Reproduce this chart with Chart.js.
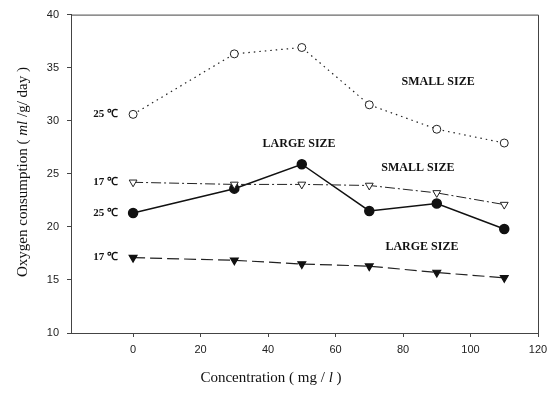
<!DOCTYPE html>
<html>
<head>
<meta charset="utf-8">
<script src="https://cdn.jsdelivr.net/npm/chart.js@4.4.1/dist/chart.umd.min.js"></script>
<style>
  html, body { margin: 0; padding: 0; background: #fff; }
  #wrap { width: 555px; height: 397px; }
</style>
</head>
<body>
<div id="wrap"><canvas id="chart" width="555" height="397"></canvas></div>
<script>
// ==========================
// DATA
// ==========================
const concentration = [0, 30, 50, 70, 90, 110];
const small25 = [30.6, 36.3, 36.9, 31.5, 29.2, 27.9];
const small17 = [24.2, 24.0, 24.0, 23.9, 23.2, 22.1];
const large25 = [21.3, 23.6, 25.9, 21.5, 22.2, 19.8];
const large17 = [17.1, 16.85, 16.5, 16.3, 15.7, 15.2];

const xTicks = [0, 20, 40, 60, 80, 100, 120];
const yTicks = [10, 15, 20, 25, 30, 35, 40];

const tempLabels = ["25 \u2103", "17 \u2103", "25 \u2103", "17 \u2103"];
const sizeLabels = [
  { text: "SMALL SIZE", x: 90.4, y: 33.7 },
  { text: "LARGE SIZE", x: 49.2, y: 27.8 },
  { text: "SMALL SIZE", x: 84.4, y: 25.6 },
  { text: "LARGE SIZE", x: 85.6, y: 18.1 }
];

function toPoints(vals) {
  return concentration.map((c, i) => ({ x: c, y: vals[i] }));
}

// draw a run of text pieces (some italic) centred on 0
function drawParts(ctx, parts, x, y) {
  let total = 0;
  parts.forEach(p => { ctx.font = p.f; total += ctx.measureText(p.t).width; });
  let px = x - total / 2;
  ctx.textAlign = "left";
  parts.forEach(p => {
    ctx.font = p.f;
    ctx.fillText(p.t, px, y);
    px += ctx.measureText(p.t).width;
  });
}

// ==========================
// TEXT + FRAME PLUGIN
// ==========================
const textPlugin = {
  id: "texts",
  afterDraw(chart) {
    const ctx = chart.ctx;
    const xs = chart.scales.x;
    const ys = chart.scales.y;
    const area = chart.chartArea;
    ctx.save();

    // frame (top + right)
    ctx.strokeStyle = "#444";
    ctx.lineWidth = 1;
    ctx.beginPath();
    ctx.moveTo(area.left, area.top + 0.5);
    ctx.lineTo(area.right + 0.5, area.top + 0.5);
    ctx.lineTo(area.right + 0.5, area.bottom);
    ctx.stroke();

    // temperature labels left of first points
    ctx.fillStyle = "#111";
    ctx.font = "bold 11px 'Liberation Serif', serif";
    ctx.textAlign = "right";
    ctx.textBaseline = "middle";
    const firsts = [small25[0], small17[0], large25[0], large17[0]];
    firsts.forEach((v, i) => {
      ctx.fillText(tempLabels[i], xs.getPixelForValue(0) - 15, ys.getPixelForValue(v));
    });

    // size labels
    ctx.font = "bold 12px 'Liberation Serif', serif";
    ctx.textAlign = "center";
    sizeLabels.forEach(l => {
      ctx.fillText(l.text, xs.getPixelForValue(l.x), ys.getPixelForValue(l.y));
    });

    const reg = "15px 'Liberation Serif', serif";
    const ita = "italic 15px 'Liberation Serif', serif";

    // x title
    drawParts(ctx, [
      { t: "Concentration ( mg / ", f: reg },
      { t: "l", f: ita },
      { t: " )", f: reg }
    ], 271, 378);

    // y title
    ctx.translate(23, 172);
    ctx.rotate(-Math.PI / 2);
    drawParts(ctx, [
      { t: "Oxygen consumption ( ", f: reg },
      { t: "ml", f: ita },
      { t: " /g/ day )", f: reg }
    ], 0, 0);

    ctx.restore();
  }
};

// ==========================
// CHART
// ==========================
const tickFont = { family: "'Liberation Sans', Arial, sans-serif", size: 11 };

new Chart(document.getElementById("chart"), {
  type: "line",
  data: {
    datasets: [
      {
        label: "Small 25",
        data: toPoints(small25),
        borderColor: "#222",
        borderWidth: 1.2,
        borderDash: [1.5, 4],
        pointStyle: "circle",
        pointRadius: 4,
        pointBackgroundColor: "#fff",
        pointBorderColor: "#222",
        pointBorderWidth: 1,
        tension: 0
      },
      {
        label: "Small 17",
        data: toPoints(small17),
        borderColor: "#222",
        borderWidth: 1,
        borderDash: [10, 3, 2, 3],
        pointStyle: "triangle",
        rotation: 180,
        pointRadius: 4.5,
        pointBackgroundColor: "#fff",
        pointBorderColor: "#222",
        pointBorderWidth: 1,
        tension: 0
      },
      {
        label: "Large 25",
        data: toPoints(large25),
        borderColor: "#111",
        borderWidth: 1.5,
        pointStyle: "circle",
        pointRadius: 4.5,
        pointBackgroundColor: "#111",
        pointBorderColor: "#111",
        tension: 0
      },
      {
        label: "Large 17",
        data: toPoints(large17),
        borderColor: "#222",
        borderWidth: 1.2,
        borderDash: [12, 5],
        pointStyle: "triangle",
        rotation: 180,
        pointRadius: 4.5,
        pointBackgroundColor: "#111",
        pointBorderColor: "#111",
        tension: 0
      }
    ]
  },
  options: {
    responsive: false,
    animation: false,
    layout: { padding: { top: 13, right: 17, left: 0, bottom: 0 } },
    plugins: {
      legend: { display: false },
      tooltip: { enabled: false }
    },
    scales: {
      x: {
        type: "linear",
        min: -18.4,
        max: 120,
        afterBuildTicks: s => { s.ticks = xTicks.map(v => ({ value: v })); },
        afterFit: s => { s.height = 64; },
        grid: { drawOnChartArea: false, drawTicks: true, tickLength: 4, color: "#444" },
        border: { display: true, color: "#444" },
        ticks: { font: tickFont, color: "#222", padding: 6, maxRotation: 0 }
      },
      y: {
        min: 10,
        max: 40,
        afterBuildTicks: s => { s.ticks = yTicks.map(v => ({ value: v })); },
        afterFit: s => { s.width = 71; },
        grid: { drawOnChartArea: false, drawTicks: true, tickLength: 4, color: "#444" },
        border: { display: true, color: "#444" },
        ticks: { font: tickFont, color: "#222", padding: 8 }
      }
    }
  },
  plugins: [textPlugin]
});
</script>
</body>
</html>
